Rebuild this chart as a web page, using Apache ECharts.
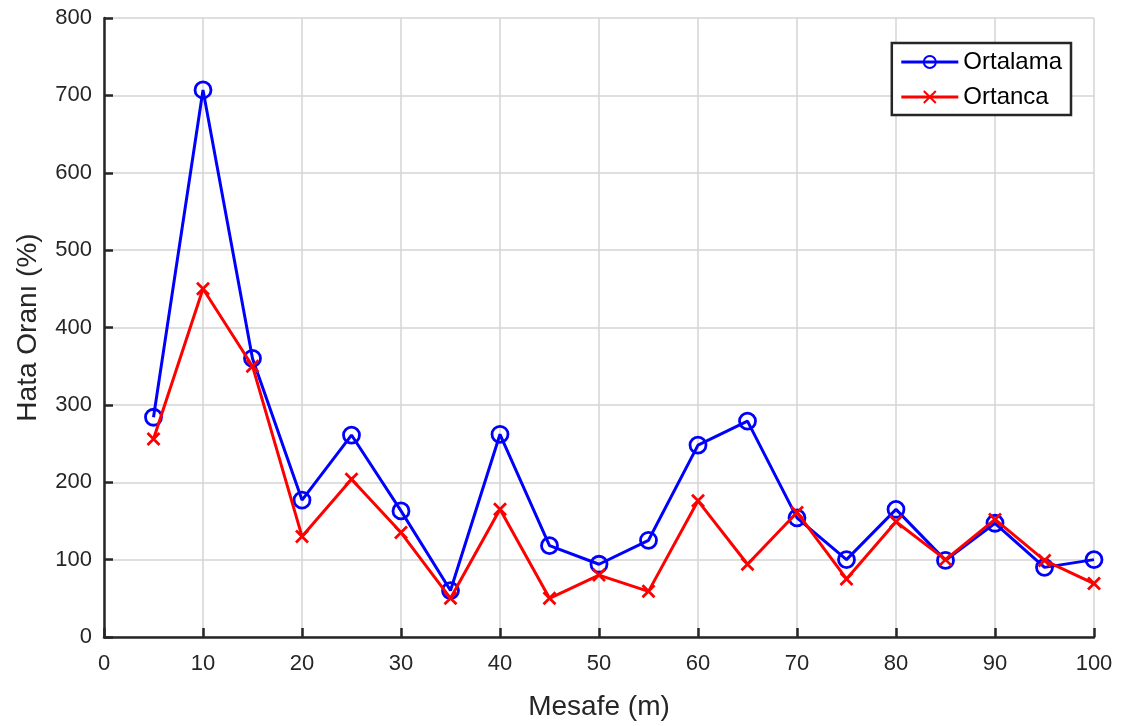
<!DOCTYPE html>
<html>
<head>
<meta charset="utf-8">
<style>
  html, body { margin: 0; padding: 0; background: #fff; }
  #chart { width: 1126px; height: 726px; }
</style>
<script src="https://cdn.jsdelivr.net/npm/echarts@6/dist/echarts.min.js"></script>
</head>
<body>
<div id="chart"></div>
<script>
// Distance (m)
const mesafe = [5, 10, 15, 20, 25, 30, 35, 40, 45, 50, 55, 60, 65, 70, 75, 80, 85, 90, 95, 100];
// Error rate (%), mean
const ortalama = [284, 707, 360, 177, 261, 163, 60, 262, 118, 94, 125, 248, 279, 154, 100, 165, 99, 147, 90, 100];
// Error rate (%), median
const ortanca = [256, 450, 350, 130, 204, 135, 50, 165, 50, 80, 59, 176, 94, 161, 75, 149, 100, 152, 99, 69];

const FONT = '"Liberation Sans", Arial, sans-serif';
const AXIS_COLOR = '#262626';
const crossPath = 'path://M0,0L10,10M10,0L0,10';

const pairs = (xs, ys) => xs.map((x, i) => [x, ys[i]]);

const chart = echarts.init(document.getElementById('chart'), null, { renderer: 'canvas' });

const axisCommon = {
  axisLine: { show: true, onZero: false, lineStyle: { color: AXIS_COLOR, width: 2.5 } },
  axisTick: { show: true, inside: true, length: 9, lineStyle: { color: AXIS_COLOR, width: 2.5 } },
  axisLabel: { color: AXIS_COLOR, fontSize: 22, fontFamily: FONT },
  splitLine: { show: true, lineStyle: { color: '#d4d4d4', width: 1.5 } },
  nameTextStyle: { color: AXIS_COLOR, fontSize: 28, fontFamily: FONT },
  nameLocation: 'middle'
};

chart.setOption({
  animation: false,
  backgroundColor: '#ffffff',
  grid: { left: 104, right: 32, top: 18, bottom: 86, containLabel: false },
  legend: {
    right: 55,
    top: 43,
    orient: 'vertical',
    itemWidth: 57,
    itemHeight: 15,
    itemGap: 11,
    padding: [7, 9, 6, 8],
    borderColor: '#262626',
    borderWidth: 2.5,
    backgroundColor: '#ffffff',
    lineStyle: { width: 3 },
    textStyle: { color: '#000', fontSize: 24, fontFamily: FONT, lineHeight: 24 },
    data: ['Ortalama', 'Ortanca']
  },
  xAxis: Object.assign({}, axisCommon, {
    type: 'value',
    min: 0, max: 100, interval: 10,
    name: 'Mesafe (m)',
    nameGap: 56,
    axisLabel: Object.assign({}, axisCommon.axisLabel, { margin: 16 })
  }),
  yAxis: Object.assign({}, axisCommon, {
    type: 'value',
    min: 0, max: 800, interval: 100,
    name: 'Hata Oranı (%)',
    nameGap: 62,
    axisLabel: Object.assign({}, axisCommon.axisLabel, { margin: 12 })
  }),
  series: [
    {
      name: 'Ortalama',
      type: 'line',
      data: pairs(mesafe, ortalama),
      color: '#0000ff',
      symbol: 'circle',
      symbolSize: 16,
      showAllSymbol: true,
      lineStyle: { color: '#0000ff', width: 3 },
      itemStyle: { color: 'rgba(0,0,0,0)', borderColor: '#0000ff', borderWidth: 2.8 },
      z: 2
    },
    {
      name: 'Ortanca',
      type: 'line',
      data: pairs(mesafe, ortanca),
      color: '#ff0000',
      symbol: crossPath,
      symbolSize: 12,
      showAllSymbol: true,
      lineStyle: { color: '#ff0000', width: 3 },
      itemStyle: { color: '#ff0000', borderColor: '#ff0000', borderWidth: 2.8 },
      z: 3
    }
  ]
});
</script>
</body>
</html>
